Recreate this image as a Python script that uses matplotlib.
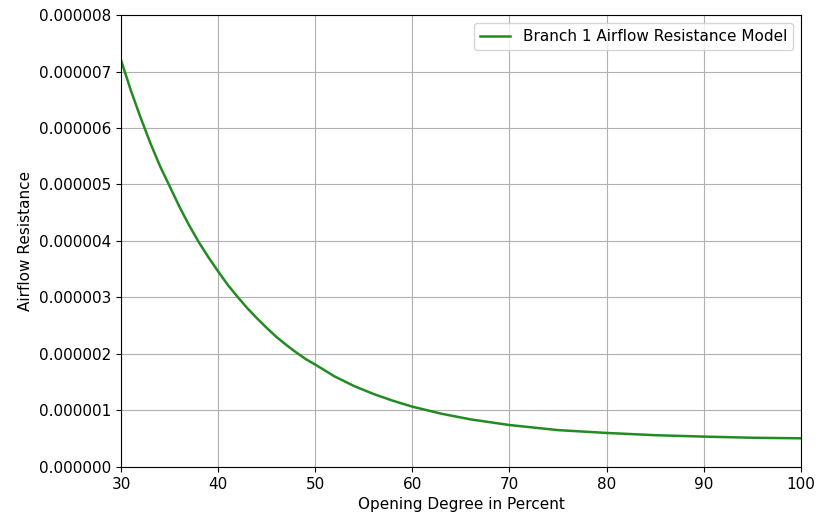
import matplotlib
matplotlib.use("Agg")
import matplotlib.pyplot as plt
from matplotlib.ticker import FormatStrFormatter

opening = [30, 31, 32, 33, 34, 35, 36, 37, 38, 39, 40, 41, 42, 43, 44, 45,
           46, 47, 48, 49, 50, 52, 54, 56, 58, 60, 63, 66, 70, 75, 80, 85,
           90, 95, 100]
resistance_e6 = [7.20, 6.67, 6.19, 5.74, 5.33, 4.97, 4.61, 4.28, 3.98, 3.71,
                 3.46, 3.22, 3.01, 2.81, 2.63, 2.46, 2.30, 2.16, 2.03, 1.91,
                 1.81, 1.60, 1.43, 1.29, 1.17, 1.065, 0.94, 0.84, 0.74, 0.65,
                 0.60, 0.56, 0.535, 0.515, 0.505]
resistance = [v * 1e-6 for v in resistance_e6]

plt.rcParams['font.size'] = 11
fig = plt.figure(figsize=(8.18, 5.21), dpi=100)
ax = fig.add_axes([0.148, 0.104, 0.831, 0.867])
ax.plot(opening, resistance, color='forestgreen', linewidth=1.8,
        label='Branch 1 Airflow Resistance Model')
ax.set_xlim(30, 100)
ax.set_ylim(0, 8e-6)
ax.set_yticks([i * 1e-6 for i in range(9)])
ax.yaxis.set_major_formatter(FormatStrFormatter('%.6f'))
ax.grid(True, color='#b0b0b0', linewidth=0.8)
ax.set_xlabel('Opening Degree in Percent')
ax.set_ylabel('Airflow Resistance')
ax.legend(loc='upper right')
fig.savefig('out.png', dpi=100)
